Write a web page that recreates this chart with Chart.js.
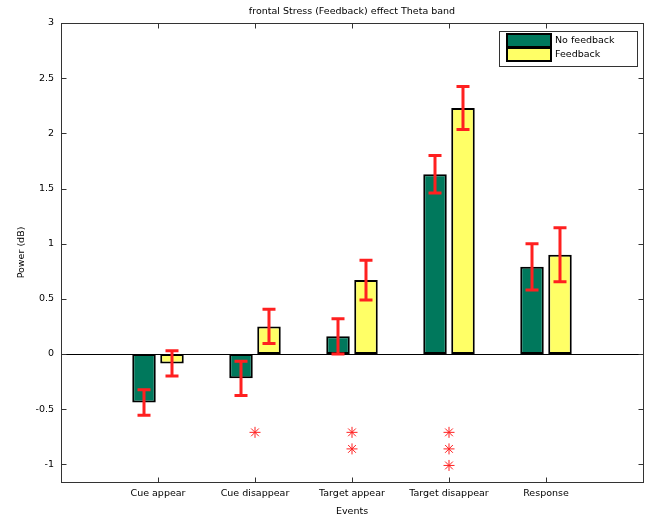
<!DOCTYPE html>
<html>
<head>
<meta charset="utf-8">
<script src="https://cdn.jsdelivr.net/npm/chart.js@4"></script>
<style>
  html, body { margin: 0; padding: 0; background: #fff; }
</style>
</head>
<body>
<canvas id="powerChart" width="655" height="519"></canvas>
<script>
// data
const categories = ["Cue appear", "Cue disappear", "Target appear", "Target disappear", "Response"];
const noFeedback = [-0.44, -0.22, 0.16, 1.63, 0.79];
const noFeedbackErr = [0.115, 0.155, 0.16, 0.17, 0.21];
const feedback = [-0.085, 0.25, 0.67, 2.23, 0.9];
const feedbackErr = [0.115, 0.155, 0.18, 0.195, 0.245];
const starCats = ["Cue disappear", "Target appear", "Target appear", "Target disappear", "Target disappear", "Target disappear"];
const starY = [-0.71, -0.71, -0.86, -0.71, -0.86, -1.01];
const yTicks = [-1, -0.5, 0, 0.5, 1, 1.5, 2, 2.5, 3];

const GREEN = "#00785c";
const YELLOW = "#ffff66";
const RED = "#ff2020";
const FONT = { family: "'DejaVu Sans', sans-serif", size: 9.5 };

Chart.defaults.font.family = FONT.family;
Chart.defaults.font.size = FONT.size;
Chart.defaults.color = "#000";

// empty slots at both ends so categories sit at 1..5 on a 0..6 axis
const labels = ["", ...categories, ""];
const pad = (arr) => [null, ...arr, null];
const errs = [noFeedbackErr, feedbackErr];

// zero line, box, inward ticks, error bars, title, legend
const framePlugin = {
  id: "frame",
  beforeDatasetsDraw(chart) {
    const { ctx, chartArea: a, scales: { y } } = chart;
    const y0 = Math.round(y.getPixelForValue(0)) + 0.5;
    ctx.save();
    ctx.strokeStyle = "#000";
    ctx.lineWidth = 1;
    ctx.beginPath();
    ctx.moveTo(a.left, y0);
    ctx.lineTo(a.right, y0);
    ctx.stroke();
    ctx.restore();
  },
  afterDatasetsDraw(chart) {
    const { ctx, chartArea: a, scales: { x, y } } = chart;
    ctx.save();
    // error bars
    ctx.strokeStyle = RED;
    ctx.lineWidth = 3;
    [0, 1].forEach((di) => {
      const meta = chart.getDatasetMeta(di);
      const vals = chart.data.datasets[di].data;
      meta.data.forEach((bar, i) => {
        const v = vals[i];
        if (v == null) return;
        const e = errs[di][i - 1];
        const top = y.getPixelForValue(v + e);
        const bot = y.getPixelForValue(v - e);
        ctx.beginPath();
        ctx.moveTo(bar.x, top);
        ctx.lineTo(bar.x, bot);
        ctx.moveTo(bar.x - 6.5, top);
        ctx.lineTo(bar.x + 6.5, top);
        ctx.moveTo(bar.x - 6.5, bot);
        ctx.lineTo(bar.x + 6.5, bot);
        ctx.stroke();
      });
    });
    // box
    ctx.strokeStyle = "#333";
    ctx.lineWidth = 1;
    const L = Math.round(a.left) + 0.5, R = Math.round(a.right) + 0.5;
    const T = Math.round(a.top) + 0.5, B = Math.round(a.bottom) + 0.5;
    ctx.strokeRect(L, T, R - L, B - T);
    ctx.beginPath();
    categories.forEach((c, i) => {
      const px = Math.round(x.getPixelForValue(i + 1)) + 0.5;
      ctx.moveTo(px, B); ctx.lineTo(px, B - 5);
      ctx.moveTo(px, T); ctx.lineTo(px, T + 5);
    });
    yTicks.forEach((v) => {
      const py = Math.round(y.getPixelForValue(v)) + 0.5;
      ctx.moveTo(L, py); ctx.lineTo(L + 5, py);
      ctx.moveTo(R, py); ctx.lineTo(R - 5, py);
    });
    ctx.stroke();
    // title
    ctx.fillStyle = "#000";
    ctx.font = FONT.size + "px " + FONT.family;
    ctx.textAlign = "center";
    ctx.textBaseline = "middle";
    ctx.fillText("frontal Stress (Feedback) effect Theta band", (a.left + a.right) / 2, 12);
    // legend
    ctx.fillStyle = "#fff";
    ctx.fillRect(499.5, 31.5, 138, 35);
    ctx.strokeStyle = "#333";
    ctx.strokeRect(499.5, 31.5, 138, 35);
    [0, 1].forEach((di) => {
      const ds = chart.data.datasets[di];
      const top = 34 + di * 14;
      ctx.fillStyle = ds.backgroundColor;
      ctx.fillRect(507, top, 44, 13);
      ctx.strokeStyle = "#000";
      ctx.lineWidth = 2;
      ctx.strokeRect(507, top, 44, 13);
      ctx.fillStyle = "#000";
      ctx.textAlign = "left";
      ctx.fillText(ds.label, 555, top + 7);
    });
    ctx.restore();
  },
};

const ctx = document.getElementById("powerChart").getContext("2d");
const powerChart = new Chart(ctx, {
  type: "bar",
  data: {
    labels: labels,
    datasets: [
      {
        label: "No feedback",
        data: pad(noFeedback),
        backgroundColor: GREEN,
        borderColor: "#000",
        borderWidth: 2,
        borderSkipped: false,
        categoryPercentage: 0.577,
        barPercentage: 0.84,
      },
      {
        label: "Feedback",
        data: pad(feedback),
        backgroundColor: YELLOW,
        borderColor: "#000",
        borderWidth: 2,
        borderSkipped: false,
        categoryPercentage: 0.577,
        barPercentage: 0.84,
      },
      {
        type: "line",
        label: "sig",
        data: starCats.map((c, i) => ({ x: c, y: starY[i] })),
        showLine: false,
        pointStyle: "star",
        pointRadius: 5.5,
        borderColor: RED,
        backgroundColor: RED,
        borderWidth: 1,
      },
    ],
  },
  options: {
    responsive: false,
    animation: false,
    layout: { padding: { top: 23, right: 12 } },
    scales: {
      x: {
        offset: false,
        grid: { display: false, drawTicks: false },
        border: { display: false },
        ticks: { padding: 6, maxRotation: 0, autoSkip: false },
        title: { display: true, text: "Events", padding: { top: 0, bottom: 2 } },
        afterFit: (s) => { s.height = 37; },
      },
      y: {
        min: -1.16,
        max: 3,
        grid: { display: false, drawTicks: false },
        border: { display: false },
        afterBuildTicks: (s) => { s.ticks = yTicks.map((v) => ({ value: v })); },
        ticks: { padding: 7, callback: (v) => String(v) },
        title: { display: true, text: "Power (dB)", padding: { top: 16 } },
        afterFit: (s) => { s.width = 61; },
      },
    },
    plugins: {
      legend: { display: false },
      tooltip: { enabled: false },
    },
  },
  plugins: [framePlugin],
});
</script>
</body>
</html>
